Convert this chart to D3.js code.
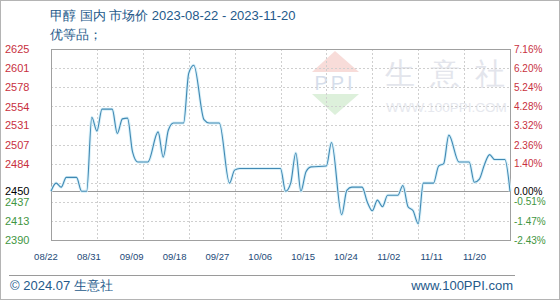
<!DOCTYPE html>
<html>
<head>
<meta charset="utf-8">
<script src="https://cdn.jsdelivr.net/npm/d3@7"></script>
<style>
  html, body { margin: 0; padding: 0; background: #fff; }
  svg { display: block; }
  text { font-family: "Liberation Sans", Arial, sans-serif; }
</style>
</head>
<body>
<svg id="chart" width="560" height="300"></svg>
<script>
// 日期 (2023) 与 价格
const dates = [
  "08-22","08-23","08-24","08-25","08-27","08-28","08-29","08-30","08-31","09-01",
  "09-03","09-04","09-05","09-06","09-07","09-08","09-10","09-12","09-13","09-14",
  "09-15","09-17","09-18","09-19","09-21","09-22","09-24","09-26","09-27","09-28",
  "10-06","10-07","10-08","10-09","10-10","10-11","10-12","10-15","10-16","10-18",
  "10-19","10-20","10-22","10-23","10-24","10-25","10-26","10-27","10-29","10-30",
  "10-31","11-01","11-02","11-03","11-05","11-06","11-07","11-08","11-10","11-12",
  "11-13","11-14","11-15","11-16","11-17","11-19","11-20"
];
const prices = [
  2450, 2460, 2455, 2467, 2467, 2450, 2450, 2541, 2524, 2551,
  2551, 2521, 2539, 2540, 2498, 2486, 2486, 2523, 2492, 2525,
  2534, 2534, 2595, 2605, 2538, 2534, 2534, 2460, 2476, 2478,
  2478, 2450, 2460, 2497, 2450, 2474, 2480, 2481, 2510, 2421,
  2451, 2455, 2455, 2437, 2426, 2439, 2431, 2445, 2445, 2457,
  2431, 2426, 2410, 2460, 2460, 2481, 2484, 2519, 2486, 2486,
  2461, 2465, 2483, 2495, 2489, 2489, 2450
];

const xLabels = ["08/22","08/31","09/09","09/18","09/27","10/06","10/15","10/24","11/02","11/11","11/20"];
const leftTicks = [2625, 2601, 2578, 2554, 2531, 2507, 2484, 2450, 2437, 2413, 2390];
const rightTicks = ["7.16%","6.20%","5.24%","4.28%","3.32%","2.36%","1.40%","0.00%","-0.51%","-1.47%","-2.43%"];
const basePrice = 2450;

const title = "甲醇 国内 市场价 2023-08-22 - 2023-11-20";
const subTitle = "优等品；";
const wmChars = ["生", "意", "社"];

const parse = d3.timeParse("%Y-%m-%d");
const data = dates.map((d, i) => ({ date: parse("2023-" + d), value: prices[i] }));

const plot = { left: 51, right: 510, top: 49, bottom: 240 };

const svg = d3.select("#chart");

// 外框
svg.append("rect")
  .attr("x", 0.5).attr("y", 0.5)
  .attr("width", 559).attr("height", 299)
  .attr("fill", "#fff")
  .attr("stroke", "#b4b4b4");

const x = d3.scaleTime()
  .domain([parse("2023-08-22"), parse("2023-11-20")])
  .range([plot.left, plot.right]);

const y = d3.scaleLinear()
  .domain([2390, 2625])
  .range([plot.bottom, plot.top]);

// x 标签位置 (与网格线不完全对齐)
const xLab = d3.scalePoint().domain(xLabels).range([46, 474.5]);

// 水印
const wm = svg.append("g").attr("class", "watermark");
wm.append("path")
  .attr("d", "M312,72 L335,51 L359,72 Z")
  .attr("fill", "#f8dcd9");
wm.append("path")
  .attr("d", "M312,94 L359,94 L335,115 Z")
  .attr("fill", "#ddf0db");
wm.append("text")
  .attr("x", 335).attr("y", 90)
  .attr("text-anchor", "middle")
  .attr("font-size", 20)
  .attr("letter-spacing", 3)
  .attr("fill", "#d6deeb")
  .text("PPI");
wm.selectAll(".wmchar")
  .data(wmChars)
  .enter()
  .append("text")
  .attr("class", "wmchar")
  .attr("x", (d, i) => 400 + i * 45)
  .attr("y", 84)
  .attr("text-anchor", "middle")
  .attr("font-family", "Noto Sans CJK SC")
  .attr("font-size", 30)
  .attr("fill", "#e3e5ec")
  .text(d => d);
wm.append("text")
  .attr("x", 386).attr("y", 112)
  .attr("font-size", 13.5)
  .attr("fill", "#e6e8ee")
  .text("WWW.100PPI.COM");

// 网格
const grid = svg.append("g").attr("class", "grid");
grid.selectAll(".hgrid")
  .data(d3.range(2390 + 23.5, 2625, 23.5))
  .enter()
  .append("line")
  .attr("class", "hgrid")
  .attr("x1", plot.left).attr("x2", plot.right)
  .attr("y1", d => Math.round(y(d)) + 0.5)
  .attr("y2", d => Math.round(y(d)) + 0.5)
  .attr("stroke", "#cfcfcf")
  .attr("stroke-dasharray", "2,2");

grid.selectAll(".vgrid")
  .data(xLabels.slice(1, -1))
  .enter()
  .append("line")
  .attr("class", "vgrid")
  .attr("x1", d => Math.round(x(parse("2023-" + d.replace("/", "-")))) + 0.5)
  .attr("x2", d => Math.round(x(parse("2023-" + d.replace("/", "-")))) + 0.5)
  .attr("y1", plot.top).attr("y2", plot.bottom)
  .attr("stroke", "#cfcfcf")
  .attr("stroke-dasharray", "2,2");

// 基准线
svg.append("line")
  .attr("x1", plot.left).attr("x2", plot.right)
  .attr("y1", Math.round(y(basePrice)) + 0.5)
  .attr("y2", Math.round(y(basePrice)) + 0.5)
  .attr("stroke", "#9a9a9a");

// 绘图区边框
svg.append("rect")
  .attr("x", plot.left + 0.5).attr("y", plot.top + 0.5)
  .attr("width", plot.right - plot.left).attr("height", plot.bottom - plot.top)
  .attr("fill", "none")
  .attr("stroke", "#a0a0a0");

// 价格线
const line = d3.line()
  .x(d => x(d.date))
  .y(d => y(d.value))
  .curve(d3.curveMonotoneX);

svg.append("path")
  .datum(data)
  .attr("d", line)
  .attr("fill", "none")
  .attr("stroke", "#d8f0f9")
  .attr("stroke-width", 3);

svg.append("path")
  .datum(data)
  .attr("d", line)
  .attr("fill", "none")
  .attr("stroke", "#4189b3")
  .attr("stroke-width", 1.1);

// 左轴
const colorOf = v => v > basePrice ? "#c8303e" : (v < basePrice ? "#3f9642" : "#000");
svg.append("g")
  .selectAll("text")
  .data(leftTicks)
  .enter()
  .append("text")
  .attr("x", 5)
  .attr("y", d => y(d))
  .attr("dy", "0.36em")
  .attr("font-size", 11)
  .attr("fill", colorOf)
  .text(d => d);

// 右轴
svg.append("g")
  .selectAll("text")
  .data(rightTicks)
  .enter()
  .append("text")
  .attr("x", 514)
  .attr("y", (d, i) => y(leftTicks[i]))
  .attr("dy", "0.36em")
  .attr("font-family", "DejaVu Sans Mono")
  .attr("font-size", 10)
  .attr("fill", (d, i) => colorOf(leftTicks[i]))
  .text(d => d);

// x 轴标签
svg.append("g")
  .selectAll("text")
  .data(xLabels)
  .enter()
  .append("text")
  .attr("x", d => xLab(d))
  .attr("y", 257)
  .attr("dy", "0.36em")
  .attr("text-anchor", "middle")
  .attr("font-family", "DejaVu Sans")
  .attr("font-size", 9.5)
  .attr("fill", "#1d4a78")
  .text(d => d);

// 标题
svg.append("text")
  .attr("x", 50).attr("y", 20)
  .attr("font-family", "Noto Sans CJK SC")
  .attr("font-size", 13)
  .attr("fill", "#24598a")
  .text(title);
svg.append("text")
  .attr("x", 50).attr("y", 39)
  .attr("font-family", "Noto Sans CJK SC")
  .attr("font-size", 13)
  .attr("fill", "#24598a")
  .text(subTitle);

// 页脚
svg.append("line")
  .attr("x1", 9).attr("x2", 515)
  .attr("y1", 275.5).attr("y2", 275.5)
  .attr("stroke", "#9a9a9a");
svg.append("text")
  .attr("x", 10).attr("y", 290)
  .attr("font-family", "Noto Sans CJK SC")
  .attr("font-size", 13)
  .attr("fill", "#24598a")
  .text("© 2024.07 生意社");
svg.append("text")
  .attr("x", 513).attr("y", 290)
  .attr("text-anchor", "end")
  .attr("font-size", 13)
  .attr("fill", "#24598a")
  .text("www.100PPI.com");
</script>
</body>
</html>
